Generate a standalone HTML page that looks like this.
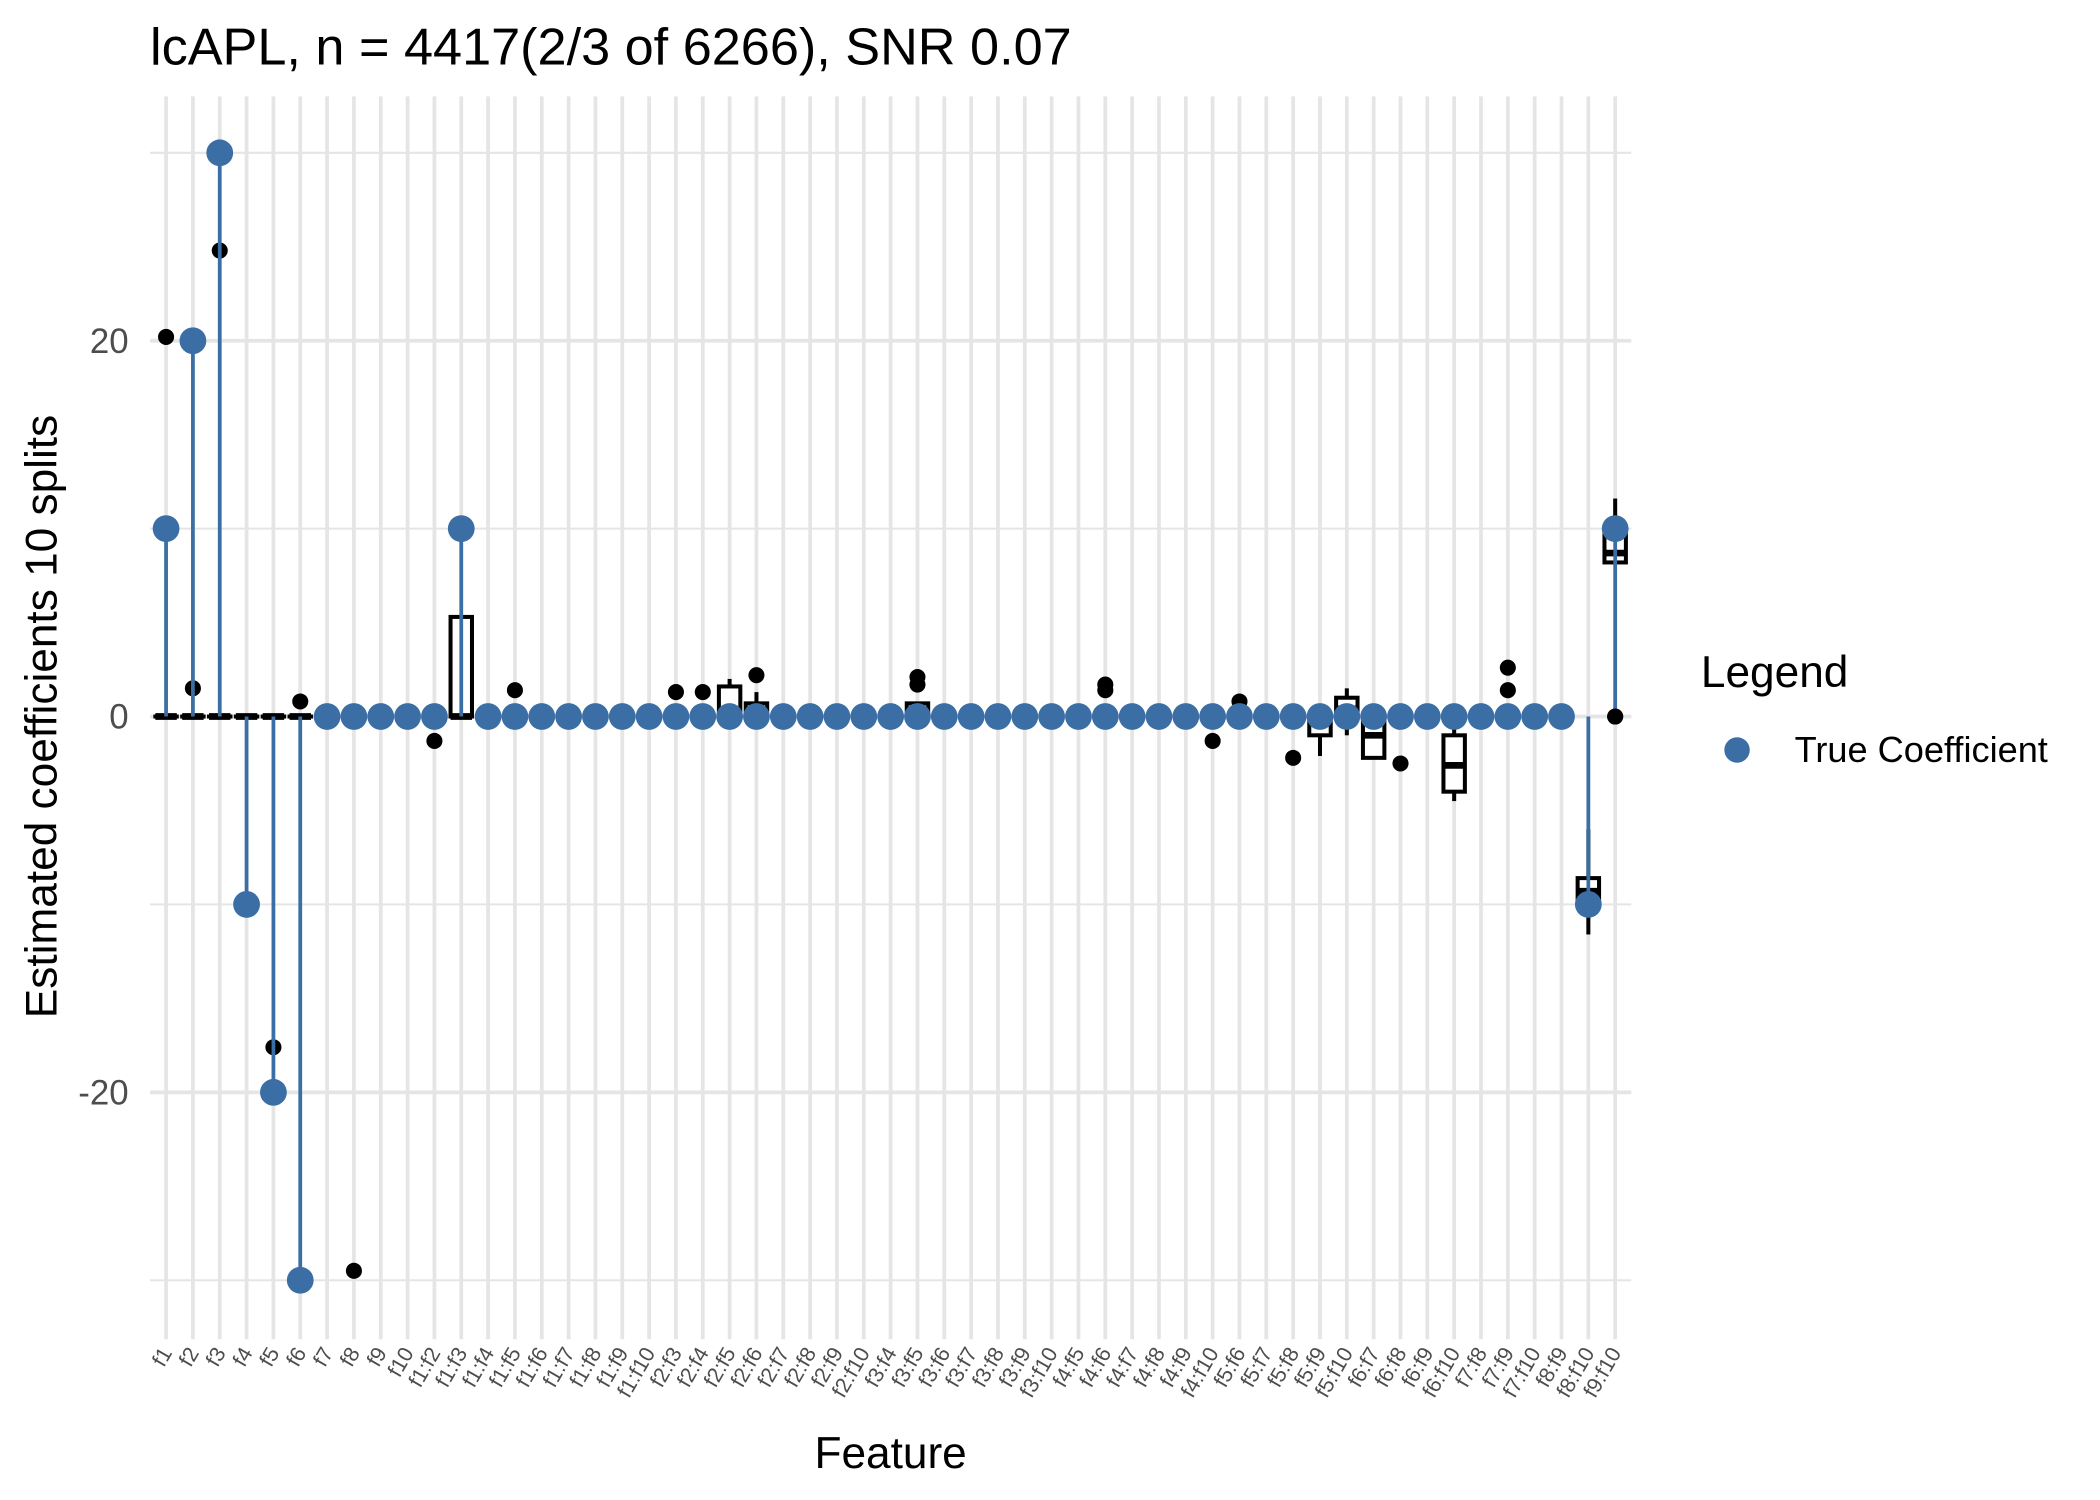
<!DOCTYPE html>
<html><head><meta charset="utf-8"><style>html,body{margin:0;padding:0;background:#fff}svg{display:block}text{font-family:"Liberation Sans",Arial,sans-serif}</style></head>
<body>
<svg id="chart" width="2100" height="1500" viewBox="0 0 1568 1120" preserveAspectRatio="none" xmlns="http://www.w3.org/2000/svg">
<rect width="1568" height="1120" fill="#fff"/>
<text x="112" y="48" font-size="39" fill="#000">lcAPL, n = 4417(2/3 of 6266), SNR 0.07</text>
<g id="grid"></g>
<g id="boxes"></g>
<g id="truth"></g>
<g id="axes"></g>
<text transform="translate(42,535) rotate(-90)" text-anchor="middle" font-size="33" fill="#000">Estimated coefficients 10 splits</text>
<text x="665" y="1096" text-anchor="middle" font-size="33" fill="#000">Feature</text>
<g>
<text x="1270" y="513" font-size="33" fill="#000">Legend</text>
<circle cx="1297" cy="560" r="9.5" fill="#3a6ea5"/>
<text x="1340" y="569" font-size="27" fill="#000">True Coefficient</text>
</g>
</svg>
<script>
const categories = ["f1","f2","f3","f4","f5","f6","f7","f8","f9","f10","f1:f2","f1:f3","f1:f4","f1:f5","f1:f6","f1:f7","f1:f8","f1:f9","f1:f10","f2:f3","f2:f4","f2:f5","f2:f6","f2:f7","f2:f8","f2:f9","f2:f10","f3:f4","f3:f5","f3:f6","f3:f7","f3:f8","f3:f9","f3:f10","f4:f5","f4:f6","f4:f7","f4:f8","f4:f9","f4:f10","f5:f6","f5:f7","f5:f8","f5:f9","f5:f10","f6:f7","f6:f8","f6:f9","f6:f10","f7:f8","f7:f9","f7:f10","f8:f9","f8:f10","f9:f10"];
const trueCoef = {"f1":10,"f2":20,"f3":30,"f4":-10,"f5":-20,"f6":-30,"f1:f3":10,"f8:f10":-10,"f9:f10":10};
// [lowWhisker, q1, median, q3, highWhisker]
const boxStats = {"f1:f3":[0,0,0,5.3,5.3],"f2:f5":[0,0,0,1.6,2.0],"f2:f6":[0,0,0,0.7,1.3],"f3:f5":[0,0,0,0.7,0.7],"f5:f9":[-2.1,-1,-0.2,0,0],"f5:f10":[-1,0,0.4,1,1.5],"f6:f7":[-2.2,-2.2,-1,0,0],"f6:f10":[-4.5,-4,-2.6,-1,0],"f8:f10":[-11.6,-10,-9.3,-8.6,-6],"f9:f10":[8.2,8.2,8.7,10,11.6]};
const outliers = {"f1":[20.2],"f2":[1.5],"f3":[24.8],"f5":[-17.6],"f6":[0.8],"f8":[-29.5],"f1:f2":[-1.3],"f1:f5":[1.4],"f2:f3":[1.3],"f2:f4":[1.3],"f2:f6":[2.2],"f3:f5":[1.7,2.1],"f4:f6":[1.4,1.7],"f4:f10":[-1.3],"f5:f6":[0.8],"f5:f8":[-2.2],"f6:f8":[-0.2,-2.5],"f7:f9":[1.4,2.6],"f9:f10":[0]};
const yTicks = [-20,0,20];
const yMinor = [-30,-10,10,30];

const NS="http://www.w3.org/2000/svg";
const X0=124, DX=(1206-124)/54, Y0=535, KY=14.03;
const xs=i=>X0+i*DX, ys=v=>Y0-v*KY;
const PL=112, PR=1218, PT=72, PB=1000;
function mk(tag,attrs,parent){const e=document.createElementNS(NS,tag);for(const k in attrs)e.setAttribute(k,attrs[k]);parent.appendChild(e);return e;}
const grid=document.getElementById('grid'),boxes=document.getElementById('boxes'),truth=document.getElementById('truth'),axes=document.getElementById('axes');
yMinor.forEach(v=>{const l=mk('line',{x1:PL,x2:PR,y1:ys(v),y2:ys(v),stroke:'#e5e5e5','stroke-width':1.5},grid);

});
yTicks.forEach(v=>{const l=mk('line',{x1:PL,x2:PR,y1:ys(v),y2:ys(v),stroke:'#e5e5e5','stroke-width':2.8},grid);


const t=mk('text',{x:96,y:ys(v)+9,'text-anchor':'end','font-size':26,fill:'#4d4d4d'},axes);t.textContent=String(v);

});
categories.forEach((c,i)=>{const x=xs(i);
const l=mk('line',{x1:x,x2:x,y1:PT,y2:PB,stroke:'#e5e5e5','stroke-width':2.8},grid);


const t=mk('text',{transform:`translate(${x+5},1010) rotate(-60)`,'text-anchor':'end','font-size':16,fill:'#4d4d4d'},axes);t.textContent=c;


const s=boxStats[c]||[0,0,0,0,0];const hw=8;
const g=mk('g',{},boxes);


mk('line',{x1:x,x2:x,y1:ys(s[4]),y2:ys(s[3]),stroke:'#000','stroke-width':3},g);
mk('line',{x1:x,x2:x,y1:ys(s[1]),y2:ys(s[0]),stroke:'#000','stroke-width':3},g);
mk('rect',{x:x-hw,y:ys(s[3]),width:2*hw,height:Math.max(0.01,ys(s[1])-ys(s[3])),fill:'#fff',stroke:'#000','stroke-width':3},g);
mk('line',{x1:x-hw,x2:x+hw,y1:ys(s[2]),y2:ys(s[2]),stroke:'#000','stroke-width':5},g);
(outliers[c]||[]).forEach(v=>{const o=mk('circle',{cx:x,cy:ys(v),r:6,fill:'#000'},g);

});
});
categories.forEach((c,i)=>{const x=xs(i);const v=trueCoef[c]||0;
if(v!==0){const st=mk('line',{x1:x,x2:x,y1:ys(0),y2:ys(v),stroke:'#3a6ea5','stroke-width':2.8},truth);

}
const p=mk('circle',{cx:x,cy:ys(v),r:10,fill:'#3a6ea5'},truth);


});
const i9=categories.indexOf('f9:f10');
const o9=mk('circle',{cx:xs(i9),cy:ys(outliers['f9:f10'][0]),r:6,fill:'#000'},truth);


</script>
</body></html>
